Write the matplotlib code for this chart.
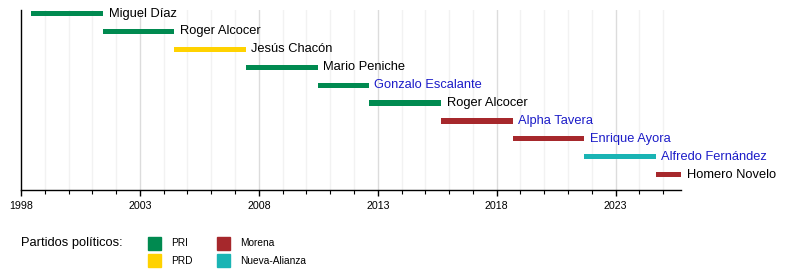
import matplotlib
matplotlib.use("Agg")
import matplotlib.pyplot as plt
import matplotlib.patches as patches
from matplotlib.ticker import FixedLocator

plt.rcParams['font.family'] = ['Liberation Sans', 'DejaVu Sans']

# presidentes municipales, inicio y fin del periodo (año decimal)
names = ["Miguel Díaz", "Roger Alcocer", "Jesús Chacón", "Mario Peniche",
         "Gonzalo Escalante", "Roger Alcocer", "Alpha Tavera", "Enrique Ayora",
         "Alfredo Fernández", "Homero Novelo"]
starts = [1998.42, 2001.45, 2004.45, 2007.45, 2010.48, 2012.62, 2015.67,
          2018.67, 2021.67, 2024.68]
ends = [2001.45, 2004.45, 2007.45, 2010.48, 2012.62, 2015.67, 2018.67,
        2021.67, 2024.68, 2025.75]
parties = ["PRI", "PRI", "PRD", "PRI", "PRI", "PRI", "Morena", "Morena",
           "Nueva-Alianza", "Morena"]
linked = [False, False, False, False, True, False, True, True, True, False]

party_names = ["PRI", "PRD", "Morena", "Nueva-Alianza"]
party_colors = {"PRI": "#008a50", "PRD": "#ffd200",
                "Morena": "#a6282c", "Nueva-Alianza": "#1ab4b4"}

major_years = list(range(1998, 2026, 5))
minor_years = [y for y in range(1998, 2026) if y not in major_years]

fig = plt.figure(figsize=(8, 2.7), dpi=100)
ax = fig.add_axes([21 / 800, 1 - 190 / 270, 660 / 800, 180 / 270])

xmin, xmax = 1998, 2025.75
ax.set_xlim(xmin, xmax)
ax.set_ylim(9.86, -0.2)

# grid: every year faint, every 5 years a bit darker
for yr in minor_years:
    ax.axvline(yr, color="#f2f2f2", lw=1, zorder=0)
for yr in major_years[1:]:
    ax.axvline(yr, color="#dcdcdc", lw=1, zorder=0)

for i, (n, s, e, p, lk) in enumerate(zip(names, starts, ends, parties, linked)):
    ax.barh(i, e - s, left=s, height=0.29, color=party_colors[p], zorder=2)
    ax.annotate(n, (e, i), xytext=(4, 0), textcoords="offset points",
                va="center", ha="left", fontsize=9.3,
                color="#1c1cc8" if lk else "black", annotation_clip=False)

for side in ["top", "right"]:
    ax.spines[side].set_visible(False)
ax.spines["left"].set_linewidth(1)
ax.spines["bottom"].set_linewidth(1)
ax.set_yticks([])
ax.xaxis.set_major_locator(FixedLocator(major_years))
ax.xaxis.set_minor_locator(FixedLocator(minor_years))
ax.tick_params(axis="x", which="major", length=4, width=1, labelsize=7.7, pad=4)
ax.tick_params(axis="x", which="minor", length=3, width=0.8)

# legend
fig.text(21 / 800, 1 - 243 / 270, "Partidos políticos:", fontsize=9.3,
         va="center", ha="left")
cols = [148, 217]
rows = [237, 254]
for k, pn in enumerate(party_names):
    x0 = cols[k // 2]
    y0 = rows[k % 2]
    fig.add_artist(patches.Rectangle((x0 / 800, 1 - (y0 + 13) / 270), 13 / 800, 13 / 270,
                                     transform=fig.transFigure,
                                     color=party_colors[pn]))
    fig.text((x0 + 23) / 800, 1 - (y0 + 6.5) / 270, pn, fontsize=7.3,
             va="center", ha="left")

fig.savefig("out.png", dpi=100)
